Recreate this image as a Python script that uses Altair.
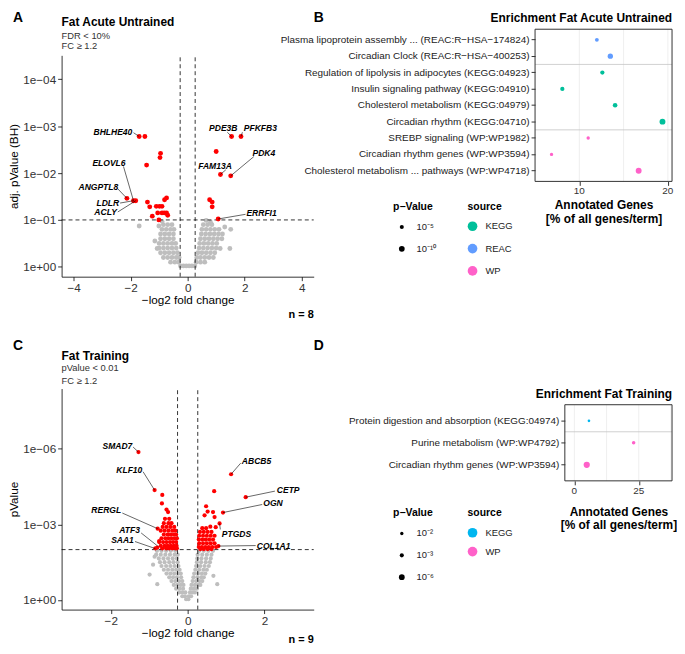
import altair as alt
import pandas as pd

FONT = "Liberation Sans"
FC_CUT = 0.263  # log2(1.2)

# ---------------- Panel A : Fat Acute Untrained volcano ----------------
A_RED_X = [-1.70, -1.50, -0.95, -0.97, -1.44, -2.13, -1.90, -1.82, -1.41, -1.33, -1.24,
           -1.10, -0.99, -0.90, -0.81, -0.74, -1.05, -0.90, -0.82, -0.74, -1.01, -0.70,
           1.54, 1.87, 1.00, 1.15, 1.51, 0.77, 0.86, 0.86, 1.07]
A_RED_Y = [2.78, 2.78, 2.42, 2.33, 2.17, 1.46, 1.41, 1.41, 1.38, 1.28, 1.08,
           1.29, 1.29, 1.29, 1.43, 1.47, 1.15, 1.15, 1.15, 1.15, 1.00, 1.10,
           2.78, 2.78, 2.46, 1.97, 1.94, 1.43, 1.38, 1.28, 1.02]
A_GRAY_ROW_Y = [0.02, 0.1, 0.2, 0.3, 0.4, 0.5, 0.6, 0.7, 0.8, 0.9]
A_GRAY_ROW_X = [
    [-0.25, -0.15, -0.05, 0.05, 0.15, 0.25],
    [-0.6, -0.45, -0.32, 0.3, 0.45, 0.6],
    [-0.85, -0.7, -0.55, -0.4, -0.3, 0.32, 0.45, 0.6, 0.75, 0.9],
    [-0.95, -0.8, -0.65, -0.5, -0.36, 0.36, 0.5, 0.65, 0.8, 0.95],
    [-1.0, -0.85, -0.7, -0.55, -0.4, 0.4, 0.55, 0.7, 0.85, 1.0],
    [-1.0, -0.85, -0.7, -0.55, -0.42, 0.42, 0.57, 0.72, 0.87, 1.02],
    [-0.95, -0.8, -0.65, -0.5, 0.45, 0.6, 0.75, 0.9, 1.05, 1.2],
    [-0.95, -0.8, -0.65, -0.5, 0.48, 0.63, 0.78, 0.93, 1.08, 1.22],
    [-0.9, -0.75, -0.6, -0.48, 0.5, 0.65, 0.8, 0.95, 1.1],
    [-0.85, -0.7, -0.55, 0.55, 0.7, 0.85],
]
A_GRAY_EXTRA_X = [-1.70, -1.07, -1.01, -1.15, 1.51, 1.48, 1.14, 0.65, 1.30, -0.90, 0.80]
A_GRAY_EXTRA_Y = [0.87, 0.39, 0.87, 0.55, 0.80, 0.39, 0.39, 0.99, 0.85, 0.97, 0.95]

A_GENES = ["BHLHE40", "ELOVL6", "ANGPTL8", "LDLR", "ACLY", "PDE3B", "PFKFB3", "PDK4", "FAM13A", "ERRFI1"]
A_LAB_X = [-1.94, -2.76, -3.13, -2.40, -2.48, 1.25, 1.97, 2.67, 0.96, 2.06]
A_LAB_Y = [2.88, 2.21, 1.70, 1.36, 1.17, 2.95, 2.95, 2.42, 2.16, 1.15]
A_LAB_ALIGN = ["right", "center", "center", "right", "right", "center", "left", "center", "center", "left"]
A_SEG_X = [-1.90, -2.25, -2.46, -2.37, -2.45, 1.39, 1.92, 2.32, 1.34, 2.03]
A_SEG_Y = [2.86, 2.14, 1.67, 1.36, 1.17, 2.87, 2.87, 2.35, 2.07, 1.12]
A_PT_X = [-1.70, -1.90, -2.13, -1.90, -1.82, 1.54, 1.87, 1.51, 1.15, 1.07]
A_PT_Y = [2.78, 1.41, 1.46, 1.41, 1.41, 2.78, 2.78, 1.94, 1.97, 1.02]

# ---------------- Panel C : Fat Training volcano ----------------
C_RED_X = [-1.28, -0.86, -0.66, -0.67, -0.55, -0.51, -0.59, -0.48, -0.78, -0.74, -0.79,
           1.13, 0.69, 1.51, 0.92, 0.48, 0.52, 0.66, 0.44, 0.70, 0.83, 0.73, 0.59, 0.80]
C_RED_Y = [5.87, 4.36, 4.17, 3.83, 3.59, 3.49, 3.22, 3.22, 2.83, 2.34, 2.08,
           4.99, 4.32, 4.08, 3.47, 3.72, 3.51, 3.49, 3.36, 3.29, 3.04, 2.89, 2.91, 2.14]
C_RED_ROW_Y = [3.05, 2.9, 2.75, 2.6, 2.45, 2.3, 2.15, 2.05,
               2.85, 2.7, 2.55, 2.4, 2.25, 2.1, 2.02]
C_RED_ROW_X = [
    [-0.62, -0.5, -0.42],
    [-0.65, -0.55, -0.45, -0.35],
    [-0.7, -0.6, -0.5, -0.4, -0.32],
    [-0.62, -0.52, -0.44, -0.36, -0.3],
    [-0.68, -0.58, -0.5, -0.42, -0.34, -0.28],
    [-0.74, -0.64, -0.55, -0.46, -0.38, -0.3],
    [-0.7, -0.6, -0.52, -0.44, -0.36, -0.29],
    [-0.84, -0.66, -0.56, -0.48, -0.4, -0.32, -0.28],
    [0.38, 0.48],
    [0.32, 0.42, 0.52, 0.62],
    [0.3, 0.4, 0.5, 0.6, 0.7],
    [0.29, 0.38, 0.47, 0.56, 0.66],
    [0.3, 0.4, 0.5, 0.6, 0.7],
    [0.29, 0.37, 0.46, 0.55, 0.64, 0.74],
    [0.33, 0.42, 0.52, 0.62],
]
C_GRAY_ROW_Y = [1.95, 1.8, 1.65, 1.5, 1.35, 1.2, 1.05, 0.9, 0.75, 0.6, 0.45, 0.3, 0.15, 0.03]
C_GRAY_ROW_X = [
    [-0.8, -0.68, -0.56, -0.44, -0.32, 0.3, 0.42, 0.54, 0.66],
    [-0.82, -0.7, -0.58, -0.46, -0.34, -0.26, 0.26, 0.38, 0.5, 0.62],
    [-0.75, -0.63, -0.51, -0.39, -0.28, 0.25, 0.36, 0.48, 0.6],
    [-0.72, -0.6, -0.48, -0.37, -0.26, 0.24, 0.35, 0.47, 0.58],
    [-0.68, -0.56, -0.45, -0.34, -0.24, 0.22, 0.33, 0.44, 0.55],
    [-0.62, -0.51, -0.4, -0.3, -0.21, 0.2, 0.3, 0.41, 0.5],
    [-0.55, -0.45, -0.35, -0.25, -0.18, 0.17, 0.27, 0.37, 0.46],
    [-0.48, -0.38, -0.28, -0.17, 0.15, 0.25, 0.35, 0.42],
    [-0.42, -0.32, -0.22, -0.14, 0.13, 0.22, 0.31, 0.38],
    [-0.36, -0.27, -0.18, -0.11, 0.1, 0.19, 0.27, 0.33],
    [-0.3, -0.21, -0.12, 0.08, 0.16, 0.24],
    [-0.22, -0.14, -0.06, 0.06, 0.13, 0.19],
    [-0.14, -0.07, 0.03, 0.09],
    [-0.04, 0.02],
]
C_GRAY_EXTRA_X = [-0.99, -0.79, -0.86, 0.77, 0.67, -0.90]
C_GRAY_EXTRA_Y = [1.01, 0.63, 1.72, 0.63, 0.96, 1.40]

C_GENES = ["SMAD7", "KLF10", "RERGL", "ATF3", "SAA1", "ABCB5", "CETP", "OGN", "PTGDS", "COL1A1"]
C_LAB_X = [-1.44, -1.18, -1.73, -1.24, -1.40, 1.41, 2.32, 1.97, 0.89, 1.80]
C_LAB_Y = [6.12, 5.14, 3.59, 2.77, 2.37, 5.51, 4.37, 3.84, 2.63, 2.16]
C_LAB_ALIGN = ["right", "right", "right", "right", "right", "left", "left", "left", "left", "left"]
C_SEG_X = [-1.42, -1.16, -1.70, -1.21, -1.37, 1.38, 2.27, 1.94, 0.85, 1.77]
C_SEG_Y = [6.07, 5.09, 3.45, 2.66, 2.32, 5.43, 4.32, 3.79, 2.80, 2.16]
C_PT_X = [-1.28, -0.86, -0.78, -0.78, -0.84, 1.13, 1.51, 0.92, 0.83, 0.80]
C_PT_Y = [5.87, 4.36, 2.83, 2.14, 2.04, 4.99, 4.08, 3.47, 3.04, 2.14]

# ---------------- Panel B : Enrichment Fat Acute Untrained ----------------
B_TERMS = [
    "Plasma lipoprotein assembly ... (REAC:R\u2212HSA\u2212174824)",
    "Circadian Clock (REAC:R\u2212HSA\u2212400253)",
    "Regulation of lipolysis in adipocytes (KEGG:04923)",
    "Insulin signaling pathway (KEGG:04910)",
    "Cholesterol metabolism (KEGG:04979)",
    "Circadian rhythm (KEGG:04710)",
    "SREBP signaling (WP:WP1982)",
    "Circadian rhythm genes (WP:WP3594)",
    "Cholesterol metabolism ... pathways (WP:WP4718)",
]
B_SOURCE = ["REAC", "REAC", "KEGG", "KEGG", "KEGG", "KEGG", "WP", "WP", "WP"]
B_PCT = [11.98, 13.5, 12.6, 8.08, 14.04, 19.39, 11.0, 6.86, 16.7]
B_NLOGP = [4.5, 8.5, 5.5, 5.5, 6.5, 10.5, 3.5, 3.5, 10.5]
B_SEP_TERMS = [B_TERMS[2], B_TERMS[6]]
B_GRID = [10, 15, 20]
B_TICKS = [10, 20]
B_TICK_LABELS = ["10", "20"]
B_SRC_DOMAIN = ["KEGG", "REAC", "WP"]
B_SRC_COLORS = ["#00BF9A", "#619CFF", "#FF61C9"]
B_LEG_VALUES = [5, 10]
B_LEG_LABELS = ["10\u207b\u2075", "10\u207b\u00b9\u2070"]

# ---------------- Panel D : Enrichment Fat Training ----------------
D_TERMS = [
    "Protein digestion and absorption (KEGG:04974)",
    "Purine metabolism (WP:WP4792)",
    "Circadian rhythm genes (WP:WP3594)",
]
D_SOURCE = ["KEGG", "WP", "WP"]
D_PCT = [5.66, 23.0, 4.8]
D_NLOGP = [1.3, 2.3, 7.0]
D_SEP_TERMS = [D_TERMS[1]]
D_GRID = [0, 12.5, 25, 37.5]
D_TICKS = [0, 25]
D_TICK_LABELS = ["0", "25"]
D_SRC_DOMAIN = ["KEGG", "WP"]
D_SRC_COLORS = ["#00B6EF", "#FF61C9"]
D_LEG_VALUES = [2, 3, 6]
D_LEG_LABELS = ["10\u207b\u00b2", "10\u207b\u00b3", "10\u207b\u2076"]


def rows_to_df(row_y, row_x, extra_x=(), extra_y=()):
    xs, ys = [], []
    for yv, xr in zip(row_y, row_x):
        for xv in xr:
            xs.append(xv)
            ys.append(yv)
    xs += list(extra_x)
    ys += list(extra_y)
    return pd.DataFrame({"x": xs, "y": ys})


def txt(s, x, y, size, weight="normal", align="left", baseline="middle", color="black"):
    return alt.Chart(pd.DataFrame({"t": [s]})).mark_text(
        font=FONT, fontSize=size, fontWeight=weight, align=align,
        baseline=baseline, color=color
    ).encode(text="t:N", x=alt.value(x), y=alt.value(y))


AX = dict(grid=False, domainColor="black", tickColor="black", tickSize=4, domainWidth=0.8,
          tickWidth=0.8, labelColor="#333333", labelFontSize=11.8, titleFontSize=11.8,
          titleFontWeight="normal", titleColor="black", labelPadding=2, labelFont=FONT,
          titleFont=FONT)


def volcano(gray, red, genes, lab_x, lab_y, lab_align, seg_x, seg_y, pt_x, pt_y,
            xdom, ydom, yrange, xvals, yvals, ytitle, pcut, W, H, dot, annots):
    X = alt.X("x:Q", scale=alt.Scale(domain=xdom, nice=False, zero=False),
              axis=alt.Axis(values=xvals, title="\u2212log2 fold change", titlePadding=0, **AX))
    Y = alt.Y("y:Q", scale=alt.Scale(domain=ydom, range=yrange, nice=False, zero=False),
              axis=alt.Axis(values=yvals, title=ytitle, titleX=-42,
                            labelExpr="datum.value == 0 ? '1e+00' : '1e\u22120' + datum.value",
                            **AX))
    g = alt.Chart(gray).mark_circle(size=dot, color="#BEBEBE", opacity=1).encode(x=X, y=Y)
    vl = alt.Chart(pd.DataFrame({"x": [-FC_CUT, FC_CUT], "y": [ydom[0]] * 2, "y2": [ydom[1]] * 2})
                   ).mark_rule(color="black", strokeDash=[4, 3], strokeWidth=0.8).encode(x=X, y=Y, y2="y2:Q")
    hl = alt.Chart(pd.DataFrame({"x": [xdom[0]], "x2": [xdom[1]], "y": [pcut]})
                   ).mark_rule(color="black", strokeDash=[4, 3], strokeWidth=0.8).encode(x=X, x2="x2:Q", y=Y)
    r = alt.Chart(red).mark_circle(size=dot, color="#FF0000", opacity=1).encode(x=X, y=Y)
    segs = alt.Chart(pd.DataFrame({"x": seg_x, "y": seg_y, "x2": pt_x, "y2": pt_y})
                     ).mark_rule(color="black", strokeWidth=0.6).encode(x=X, y=Y, x2="x2:Q", y2="y2:Q")
    labdf = pd.DataFrame({"x": lab_x, "y": lab_y, "gene": genes, "al": lab_align})
    layers = [g, vl, hl, r, segs]
    for a in ["left", "center", "right"]:
        sub = labdf[labdf["al"] == a]
        if len(sub):
            layers.append(alt.Chart(sub).mark_text(
                font=FONT, fontSize=8.6, fontWeight="bold", fontStyle="italic", align=a,
                baseline="middle", color="black").encode(x=X, y=Y, text="gene:N"))
    layers += annots
    return alt.layer(*layers).properties(width=W, height=H)


def enrich(terms, source, pct, nlogp, seps, grid, ticks, tick_labels, src_dom, src_col,
           leg_vals, leg_labels, xdom, W, H, xoff, pad_outer, size_dom, size_rng, legY,
           title_pad, color_row_pad, annots):
    X = alt.X("pct:Q", scale=alt.Scale(domain=xdom, range=[xoff, W], nice=False, zero=False),
              axis=alt.Axis(values=ticks, title=["Annotated Genes", "[% of all genes/term]"],
                            grid=False, domain=False, tickColor="#333333", tickSize=4,
                            labels=False, titleFontSize=12, titleFontWeight="bold",
                            titleColor="black", titlePadding=title_pad, titleFont=FONT))
    yscale = alt.Scale(type="band", domain=terms, paddingInner=0, paddingOuter=pad_outer)
    yaxis = alt.Axis(title=None, domain=False, offset=-xoff, tickColor="#333333", tickSize=4,
                     labelColor="#222222", labelFontSize=10, labelPadding=2, labelLimit=400,
                     labelFont=FONT)
    Y = alt.Y("term:N", scale=yscale, axis=yaxis, sort=terms)
    Y0 = alt.Y("term:N", scale=yscale, axis=yaxis, sort=terms, bandPosition=0)
    gridl = alt.Chart(pd.DataFrame({"pct": grid})).mark_rule(color="#EBEBEB", strokeWidth=0.8).encode(x=X)
    sepl = alt.Chart(pd.DataFrame({"term": seps, "pct": [xdom[0]] * len(seps), "pct2": [xdom[1]] * len(seps)})
                     ).mark_rule(color="#C4C4C4", strokeWidth=0.8).encode(x=X, x2="pct2:Q", y=Y0)
    ticklab = alt.Chart(pd.DataFrame({"pct": ticks, "lab": tick_labels})).mark_text(
        font=FONT, fontSize=10, color="#333333", baseline="top", align="center"
    ).encode(x=X, y=alt.value(H + 5), text="lab:N")
    size_expr = " : ".join(f"datum.value == {v} ? '{l}'" for v, l in zip(leg_vals, leg_labels)) + " : ''"
    pts = alt.Chart(pd.DataFrame({"term": terms, "source": source, "pct": pct, "nlogp": nlogp})
                    ).mark_circle(opacity=1).encode(
        x=X, y=Y,
        color=alt.Color("source:N", scale=alt.Scale(domain=src_dom, range=src_col),
                        legend=alt.Legend(title="source", orient="none", legendX=-68, legendY=legY,
                                          symbolType="circle", symbolSize=95, symbolStrokeWidth=0,
                                          symbolOpacity=1, titleFontSize=10.5, titleFontWeight="bold",
                                          labelFontSize=9.5, labelColor="#222222",
                                          rowPadding=color_row_pad, titlePadding=9, labelOffset=8,
                                          titleFont=FONT, labelFont=FONT)),
        size=alt.Size("nlogp:Q", scale=alt.Scale(domain=size_dom, range=size_rng, zero=True),
                      legend=alt.Legend(title="p\u2212Value", orient="none", legendX=-143,
                                        legendY=legY, values=leg_vals, labelExpr=size_expr,
                                        symbolType="circle", symbolFillColor="black",
                                        symbolStrokeWidth=0, symbolOpacity=1, titleFontSize=10.5,
                                        titleFontWeight="bold", labelFontSize=9.5,
                                        labelColor="#222222", rowPadding=11, titlePadding=10,
                                        labelOffset=10, symbolOffset=4, titleFont=FONT,
                                        labelFont=FONT)),
    )
    border = alt.Chart(pd.DataFrame({"pct": [xdom[0]], "pct2": [xdom[1]]})).mark_rect(
        fillOpacity=0, stroke="#333333", strokeWidth=1).encode(
        x=X, x2="pct2:Q", y=alt.value(0), y2=alt.value(H))
    return alt.layer(gridl, sepl, pts, border, ticklab, *annots).properties(width=W, height=H)


A_W, A_H = 254, 249.3
C_W, C_H = 254, 206.4
B_W, B_H = 138, 153.3
D_W, D_H = 138, 76.7

panelA = volcano(
    rows_to_df(A_GRAY_ROW_Y, A_GRAY_ROW_X, A_GRAY_EXTRA_X, A_GRAY_EXTRA_Y),
    pd.DataFrame({"x": A_RED_X, "y": A_RED_Y}),
    A_GENES, A_LAB_X, A_LAB_Y, A_LAB_ALIGN, A_SEG_X, A_SEG_Y, A_PT_X, A_PT_Y,
    [-4.42, 4.42], [-0.21, 4.51], [A_H, 26.3], [-4, -2, 0, 2, 4], [0, 1, 2, 3, 4],
    "adj. pValue (BH)", 1.0, A_W, A_H, 24,
    [txt("A", -49, -18.7, 14, "bold", baseline="top"),
     txt("Fat Acute Untrained", 0, -7.7, 12, "bold"),
     txt("FDR < 10%", 0, 7.0, 9.4, color="#333333"),
     txt("FC \u2265 1.2", 0, 17.0, 9.4, color="#333333"),
     txt("n = 8", A_W, 287.8, 11, "bold", align="right")])

panelC = volcano(
    rows_to_df(C_GRAY_ROW_Y, C_GRAY_ROW_X, C_GRAY_EXTRA_X, C_GRAY_EXTRA_Y),
    pd.concat([pd.DataFrame({"x": C_RED_X, "y": C_RED_Y}),
               rows_to_df(C_RED_ROW_Y, C_RED_ROW_X)], ignore_index=True),
    C_GENES, C_LAB_X, C_LAB_Y, C_LAB_ALIGN, C_SEG_X, C_SEG_Y, C_PT_X, C_PT_Y,
    [-3.28, 3.28], [-0.38, 8.39], [C_H, -16.3], [-2, 0, 2], [0, 3, 6],
    "pValue", 2.0, C_W, C_H, 18,
    [txt("C", -49, -66.3, 14, "bold", baseline="top"),
     txt("Fat Training", 0, -49.3, 12, "bold"),
     txt("pValue < 0.01", 0, -36.5, 9.4, color="#333333"),
     txt("FC \u2265 1.2", 0, -24.3, 9.4, color="#333333"),
     txt("n = 9", C_W, 236.7, 11, "bold", align="right")])

panelB = enrich(B_TERMS, B_SOURCE, B_PCT, B_NLOGP, B_SEP_TERMS, B_GRID, B_TICKS, B_TICK_LABELS,
                B_SRC_DOMAIN, B_SRC_COLORS, B_LEG_VALUES, B_LEG_LABELS,
                [5.0, 20.47], B_W, B_H, 0, 0.15, [0, 12], [0, 40], 174, 14, 12.5,
                [txt("B", -223, -18.7, 14, "bold", baseline="top"),
                 txt("Enrichment Fat Acute Untrained", B_W, -11.7, 12, "bold", align="right")])

panelD = enrich(D_TERMS, D_SOURCE, D_PCT, D_NLOGP, D_SEP_TERMS, D_GRID, D_TICKS, D_TICK_LABELS,
                D_SRC_DOMAIN, D_SRC_COLORS, D_LEG_VALUES, D_LEG_LABELS,
                [-3.7, 37.9], D_W, D_H, 30, 0.23, [0, 8], [0, 45], 104.5, 21, 9,
                [txt("D", -223, -66.3, 14, "bold", baseline="top"),
                 txt("Enrichment Fat Training", D_W, -11, 12, "bold", align="right")])

chart = alt.concat(
    panelA, panelB, panelC, panelD, columns=2,
    spacing={"row": 128.3, "column": 223}, bounds="flush", align="each"
).resolve_scale(
    color="independent", size="independent"
).properties(padding=0).configure(font=FONT).configure_view(stroke=None)

chart.save("out.html", embed_options={"renderer": "svg", "actions": False})
